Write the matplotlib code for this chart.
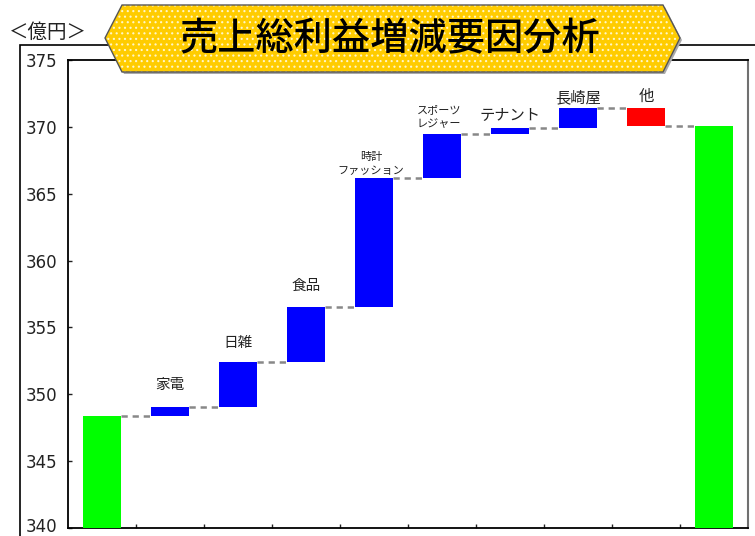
import numpy as np
import matplotlib
matplotlib.use("Agg")
import matplotlib.pyplot as plt
import matplotlib.transforms as mtransforms
from matplotlib.patches import Polygon, Rectangle

plt.rcParams['font.family'] = ['Noto Sans CJK JP', 'DejaVu Sans']
plt.rcParams['lines.scale_dashes'] = False
plt.rcParams['hatch.linewidth'] = 0.8

# data (億円)
categories = ['前期', '家電', '日雑', '食品', '時計\nファッション', 'スポーツ\nレジャー',
              'テナント', '長崎屋', '他', '当期']
start_value = 348.4
changes = [0.65, 3.35, 4.1, 9.7, 3.3, 0.45, 1.45, -1.3]
y_ticks = [340, 345, 350, 355, 360, 365, 370, 375]

# label styles (size, offset above bar in px)
label_size = [0, 10.5, 10.5, 10.5, 8, 8, 11, 11, 11, 0]
label_off = [0, 22, 19, 22, 2, 5, 13, 10, 12, 0]

W, H = 755, 536


def px(x, y):
    # pixel position (top-left origin) -> figure fraction
    return (x / W, 1 - y / H)


levels = start_value + np.cumsum([0] + changes)
end_value = levels[-1]

bottoms, tops, colors = [340], [start_value], ['#00ff00']
for i, c in enumerate(changes):
    lo, hi = sorted([levels[i], levels[i + 1]])
    bottoms.append(lo)
    tops.append(hi)
    colors.append('#0000ff' if c >= 0 else '#ff0000')
bottoms.append(340)
tops.append(end_value)
colors.append('#00ff00')

fig = plt.figure(figsize=(W / 100, H / 100), dpi=100)
l, b = px(68, 528)
r, t = px(748, 60)
ax = fig.add_axes([l, b, r - l, t - b])

x = np.arange(len(categories))
bw = 0.57
ax.bar(x, np.array(tops) - np.array(bottoms), bottom=bottoms, width=bw,
       color=colors, zorder=3)

# dashed connectors
conn = [start_value] + list(levels[1:])
for i in range(len(categories) - 1):
    ax.plot([x[i] + bw / 2, x[i + 1] - bw / 2], [conn[i], conn[i]],
            color='#888888', lw=1.8, dashes=(4.5, 3.5), zorder=2)

for i, name in enumerate(categories):
    if label_size[i] == 0:
        continue
    two = '\n' in name
    ax.annotate(name, (x[i], tops[i]), xytext=(-2 if two else 0, label_off[i] * 0.72),
                textcoords='offset points', ha='center', va='bottom' if two else 'center',
                fontsize=label_size[i], color='#222222', linespacing=1.45)

ax.set_xlim(-0.5, len(categories) - 0.5)
ax.set_ylim(340, 375)
ax.set_yticks(y_ticks)
ax.set_xticks(x[:-1] + 0.5)
ax.set_xticklabels([])
ax.tick_params(axis='both', direction='in', length=3, width=1, colors='#222222',
               labelsize=12, pad=8)
for lab in ax.get_yticklabels():
    lab.set_family('DejaVu Sans')
# lift the bottom label a little so it stays inside the picture
ax.get_yticklabels()[0].set_transform(
    ax.get_yticklabels()[0].get_transform()
    + mtransforms.ScaledTranslation(0, 3 / 100, fig.dpi_scale_trans))
for s in ['left', 'bottom', 'top']:
    ax.spines[s].set_linewidth(1.3)
ax.spines['right'].set_color('#707070')
ax.spines['right'].set_linewidth(1.5)

# outer frame
fx, fy = px(20, 545)
fig.add_artist(Rectangle((fx, fy), 1.2, px(0, 45)[1] - fy, transform=fig.transFigure,
                         fill=False, edgecolor='black', lw=1.2, zorder=1))

# title banner
pts = [px(122, 5), px(663, 5), px(680, 38), px(663, 72), px(122, 72), px(105, 38)]
shadow = [(p[0] + 2 / W, p[1] - 2 / H) for p in pts]
fig.add_artist(Polygon(shadow, closed=True, transform=fig.transFigure,
                       facecolor='#aaaaaa', edgecolor='none', zorder=5))
fig.add_artist(Polygon(pts, closed=True, transform=fig.transFigure,
                       facecolor='#ffcc00', edgecolor='none', zorder=6))
fig.add_artist(Polygon(pts, closed=True, transform=fig.transFigure,
                       facecolor='none', edgecolor='#fff6c8', hatch='...', lw=0, zorder=7))
fig.add_artist(Polygon(pts, closed=True, transform=fig.transFigure,
                       facecolor='none', edgecolor='#555555', lw=1.0, zorder=8))
tx, ty = px(390, 39)
fig.text(tx, ty, '売上総利益増減要因分析', ha='center', va='center', fontsize=27.5,
         fontweight='medium', color='black', zorder=9)

ux, uy = px(48, 32)
fig.text(ux, uy, '＜億円＞', ha='center', va='center', fontsize=14, color='#222222')

fig.savefig('out.png', dpi=100)
